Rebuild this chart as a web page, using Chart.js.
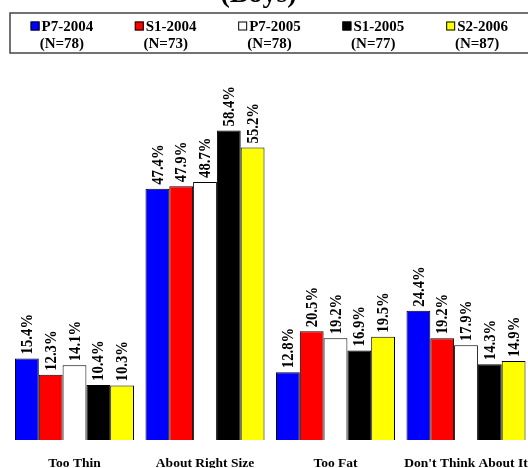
<!DOCTYPE html>
<html>
<head>
<meta charset="utf-8">
<script src="https://cdn.jsdelivr.net/npm/chart.js@4/dist/chart.umd.min.js"></script>
<style>
  html, body { margin: 0; padding: 0; background: #fff; overflow: hidden; width: 528px; height: 468px; }
  #wrap { position: absolute; left: 0; top: -20px; width: 550px; height: 516px; }
</style>
</head>
<body>
<div id="wrap"><canvas id="chart" width="550" height="516"></canvas></div>
<script>
// Body size perception by survey wave (percent of boys)
const categories = ['Too Thin', 'About Right Size', 'Too Fat', "Don't Think About It"];
const seriesNames = ['P7-2004', 'S1-2004', 'P7-2005', 'S1-2005', 'S2-2006'];
const sampleSizes = ['(N=78)', '(N=73)', '(N=78)', '(N=77)', '(N=87)'];
const p7_2004 = [15.4, 47.4, 12.8, 24.4];
const s1_2004 = [12.3, 47.9, 20.5, 19.2];
const p7_2005 = [14.1, 48.7, 19.2, 17.9];
const s1_2005 = [10.4, 58.4, 16.9, 14.3];
const s2_2006 = [10.3, 55.2, 19.5, 14.9];
const seriesColors = ['#0000ff', '#ff0000', '#ffffff', '#000000', '#ffff00'];
const titleText = '(Boys)';

const serif = '"Liberation Serif", "Times New Roman", serif';
const seriesValues = [p7_2004, s1_2004, p7_2005, s1_2005, s2_2006];

const datasets = seriesNames.map((name, i) => ({
  label: name,
  data: seriesValues[i],
  backgroundColor: seriesColors[i],
  borderColor: '#000',
  borderWidth: 1,
  categoryPercentage: 0.912,
  barPercentage: 1.0
}));

// Title, boxed two-line legend and rotated value labels
const decorations = {
  id: 'decorations',
  afterDatasetsDraw(chart) {
    const ctx = chart.ctx;
    ctx.save();

    // title
    ctx.fillStyle = '#000';
    ctx.font = 'bold 28px ' + serif;
    ctx.textAlign = 'center';
    ctx.textBaseline = 'alphabetic';
    ctx.fillText(titleText, 258.5, 21.5);

    // legend box
    const boxL = 10, boxR = 529, boxT = 33, boxB = 73;
    ctx.strokeStyle = '#444';
    ctx.lineWidth = 1.5;
    ctx.strokeRect(boxL, boxT, boxR - boxL, boxB - boxT);
    const colW = (boxR - boxL) / seriesNames.length;
    ctx.font = 'bold 15px ' + serif;
    chart.data.datasets.forEach((ds, i) => {
      const cx = boxL + colW * (i + 0.5);
      const tw = ctx.measureText(ds.label).width;
      const itemW = 9 + 2 + tw;
      const x0 = cx - itemW / 2;
      ctx.fillStyle = ds.backgroundColor;
      ctx.fillRect(x0, 41.5, 9, 9);
      ctx.strokeStyle = '#000';
      ctx.lineWidth = 1;
      ctx.strokeRect(x0 + 0.5, 42, 8, 8);
      ctx.fillStyle = '#000';
      ctx.textAlign = 'left';
      ctx.fillText(ds.label, x0 + 11, 51);
      ctx.textAlign = 'center';
      ctx.fillText(sampleSizes[i], cx, 67.5);
    });

    // value labels above each bar
    ctx.font = 'bold 16px ' + serif;
    ctx.fillStyle = '#000';
    ctx.textAlign = 'left';
    ctx.textBaseline = 'middle';
    chart.data.datasets.forEach((ds, i) => {
      chart.getDatasetMeta(i).data.forEach((bar, j) => {
        ctx.save();
        ctx.translate(bar.x + 1, bar.y - 4);
        ctx.rotate(-Math.PI / 2);
        ctx.scale(0.92, 1);
        ctx.fillText(ds.data[j].toFixed(1) + '%', 0, 0);
        ctx.restore();
      });
    });
    ctx.restore();
  }
};

new Chart(document.getElementById('chart'), {
  type: 'bar',
  data: { labels: categories, datasets },
  options: {
    responsive: false,
    animation: false,
    layout: { padding: { top: 89, left: 9.25, right: 18.75, bottom: 9.8 } },
    plugins: {
      legend: { display: false },
      title: { display: false },
      tooltip: { enabled: false }
    },
    scales: {
      x: {
        grid: { display: false, drawTicks: false },
        border: { display: false },
        ticks: {
          color: '#000',
          font: { family: serif, size: 13.5, weight: 'bold' },
          padding: 15,
          autoSkip: false,
          maxRotation: 0,
          minRotation: 0
        }
      },
      y: {
        display: false,
        min: 0,
        max: 70
      }
    }
  },
  plugins: [decorations]
});
</script>
</body>
</html>
